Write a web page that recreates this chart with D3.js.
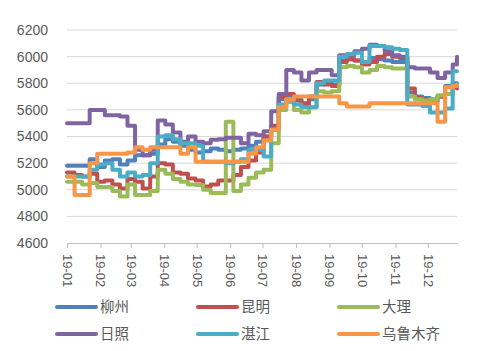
<!DOCTYPE html>
<html>
<head>
<meta charset="utf-8">
<script src="https://cdn.jsdelivr.net/npm/d3@7"></script>
<style>
  body { margin: 0; background: #fff; }
  text { font-family: "Liberation Sans", "Noto Sans", sans-serif; fill: #595959; }
  .legend text { font-family: "Noto Sans CJK SC", sans-serif; }
</style>
</head>
<body>
<div id="chart"></div>
<script>
// weekly sample dates (2019)
var dates = ["01-01","01-08","01-15","01-22","01-29","02-05","02-12","02-19","02-26",
  "03-05","03-12","03-19","03-26","04-02","04-09","04-16","04-23","04-30",
  "05-07","05-14","05-21","05-28","06-04","06-11","06-18","06-25",
  "07-02","07-09","07-16","07-23","07-30","08-06","08-13","08-20","08-27",
  "09-03","09-10","09-17","09-24","10-01","10-08","10-15","10-22","10-29",
  "11-05","11-12","11-19","11-26","12-03","12-10","12-17","12-24","12-28"];

var names = ["柳州", "昆明", "大理", "日照", "湛江", "乌鲁木齐"];
var colors = ["#4F81BD", "#C0504D", "#9BBB59", "#8064A2", "#4BACC6", "#F79646"];

var liuzhou = [5180,5180,5180,5230,5170,5220,5230,5190,5220,5260,5260,5270,5340,5380,5360,5330,5300,5280,
  5290,5310,5300,5290,5300,5310,5330,5360,5400,5450,5680,5700,5680,5640,5680,5790,5800,5790,
  5970,5980,5970,5960,5990,5980,5970,5960,5960,5730,5700,5690,5680,5700,5780,5800,5800];
var kunming = [5130,5110,5100,5120,5060,5070,5040,5010,5080,5060,5010,5100,5200,5190,5130,5120,5085,5070,
  5025,5040,5070,5070,5110,5170,5220,5280,5400,5480,5700,5720,5670,5650,5700,5810,5790,5780,
  5960,5980,5970,5940,5960,6000,6020,6000,5990,5760,5690,5680,5660,5700,5720,5770,5760];
var dali = [5060,5060,5040,5050,5020,5020,4990,4950,5040,4960,4960,4990,5150,5120,5080,5060,5040,5035,
  5000,4975,4975,5510,4990,5040,5090,5130,5150,5350,5600,5660,5600,5580,5620,5740,5730,5740,
  5920,5930,5920,5880,5900,5930,5920,5910,5910,5700,5680,5670,5680,5710,5720,5780,5790];
var rizhao = [5500,5500,5500,5600,5600,5560,5560,5550,5480,5300,5260,5300,5520,5490,5430,5360,5400,5360,
  5350,5375,5380,5390,5390,5350,5420,5410,5440,5590,5720,5900,5880,5820,5880,5900,5900,5860,
  6010,6010,6040,6060,6090,6080,6040,6010,6000,5920,5910,5910,5880,5840,5880,5940,6000];
var zhanjiang = [5100,5100,5100,5150,5190,5200,5150,5100,5130,5100,5110,5200,5400,5410,5380,5350,5350,5330,
  5210,5210,5210,5200,5210,5230,5300,5300,5250,5450,5640,5680,5640,5620,5620,5800,5820,5820,
  6000,6020,6030,5960,6080,6080,6070,6060,6050,5640,5640,5630,5580,5580,5610,5890,5890];
var wulumuqi = [5100,4960,4960,5200,5270,5270,5270,5270,5280,5320,5300,5320,5320,5320,5320,5270,5320,5210,
  5210,5210,5210,5210,5210,5210,5270,5320,5370,5450,5620,5680,5700,5700,5700,5700,5700,5700,
  5650,5625,5625,5625,5650,5650,5650,5650,5650,5650,5650,5650,5650,5510,5770,5780,5780];

var series = [liuzhou, kunming, dali, rizhao, zhanjiang, wulumuqi];
var yTicks = [4600, 4800, 5000, 5200, 5400, 5600, 5800, 6000, 6200];
var monthTicks = ["19-01","19-02","19-03","19-04","19-05","19-06","19-07","19-08","19-09","19-10","19-11","19-12"];

var width = 492, height = 351;
var parse = d3.timeParse("%Y-%m-%d");
var dateObjs = dates.map(function(d) { return parse("2019-" + d); });

var svg = d3.select("#chart").append("svg")
  .attr("width", width)
  .attr("height", height);

var x = d3.scaleTime()
  .domain([parse("2019-01-01"), parse("2019-12-28")])
  .range([67, 457]);
var y = d3.scaleLinear()
  .domain([4600, 6200])
  .range([243, 30]);

// gridlines
svg.append("g")
  .selectAll("line")
  .data(yTicks.slice(1))
  .enter()
  .append("line")
  .attr("x1", 67).attr("x2", 457)
  .attr("y1", function(d) { return y(d); })
  .attr("y2", function(d) { return y(d); })
  .attr("stroke", "#d9d9d9")
  .attr("stroke-width", 1);

// y labels
svg.append("g")
  .selectAll("text")
  .data(yTicks)
  .enter()
  .append("text")
  .attr("x", 48)
  .attr("y", function(d) { return y(d); })
  .attr("dy", "0.35em")
  .attr("text-anchor", "end")
  .attr("font-size", "14px")
  .text(function(d) { return d; });

// x axis
var monthDates = monthTicks.map(function(m) { return parse("20" + m + "-01"); });
var xAxis = svg.append("g")
  .attr("transform", "translate(0," + y(4600) + ")")
  .call(d3.axisBottom(x)
    .tickValues(monthDates)
    .tickSize(5)
    .tickSizeOuter(0)
    .tickFormat(function(d, i) { return monthTicks[i]; }));
xAxis.select(".domain").attr("stroke", "#bfbfbf");
xAxis.selectAll(".tick line").attr("stroke", "#bfbfbf");
xAxis.selectAll(".tick text")
  .attr("fill", "#595959")
  .attr("font-size", "13px")
  .attr("font-family", "Liberation Sans, sans-serif")
  .attr("text-anchor", "start")
  .attr("transform", "rotate(90)")
  .attr("x", 11)
  .attr("y", 0)
  .attr("dy", "0.35em");

// lines
var line = d3.line()
  .x(function(d, i) { return x(dateObjs[i]); })
  .y(function(d) { return y(d); })
  .curve(d3.curveStepAfter);

svg.append("g")
  .selectAll("path")
  .data(series)
  .enter()
  .append("path")
  .attr("fill", "none")
  .attr("stroke", function(d, i) { return colors[i]; })
  .attr("stroke-width", 4)
  .attr("stroke-linejoin", "round")
  .attr("stroke-linecap", "round")
  .attr("d", line);

// legend
var legend = svg.append("g").attr("class", "legend")
  .selectAll("g")
  .data(names)
  .enter()
  .append("g")
  .attr("transform", function(d, i) {
    return "translate(" + (57 + (i % 3) * 141) + "," + (307 + Math.floor(i / 3) * 27) + ")";
  });
legend.append("line")
  .attr("x1", 0).attr("x2", 39)
  .attr("stroke", function(d, i) { return colors[i]; })
  .attr("stroke-width", 4)
  .attr("stroke-linecap", "round");
legend.append("text")
  .attr("x", 43)
  .attr("dy", "0.35em")
  .attr("font-size", "14.5px")
  .text(function(d) { return d; });
</script>
</body>
</html>
